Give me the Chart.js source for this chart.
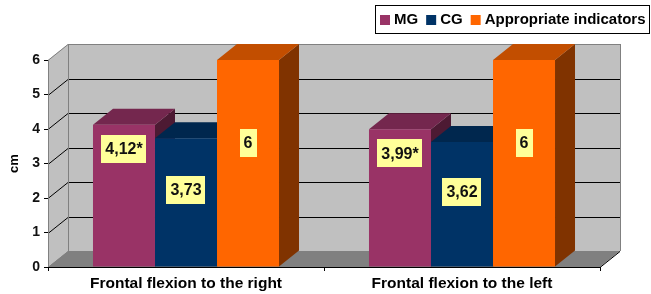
<!DOCTYPE html>
<html>
<head>
<meta charset="utf-8">
<script src="https://cdn.jsdelivr.net/npm/chart.js@4.4.1/dist/chart.umd.min.js"></script>
<style>
  html, body { margin: 0; padding: 0; background: #fff; }
  #wrap { width: 651px; height: 294px; }
</style>
</head>
<body>
<div id="wrap"><canvas id="chart" width="651" height="294"></canvas></div>
<script>
// --- data ---
const categories = ['Frontal flexion to the right', 'Frontal flexion to the left'];
const mgValues = [4.12, 3.99];
const cgValues = [3.73, 3.62];
const normValues = [6, 6];
const mgMarks = ['*', '*'];          // significance marks on MG labels
const yMin = 0, yMax = 6, yStep = 1;

const FONT = '"Liberation Sans", Arial, sans-serif';
const DX = 20, DY = -16;             // depth of the 3D box

// darken a hex colour
function shade(hex, f) {
    const n = parseInt(hex.slice(1), 16);
    const r = Math.round(((n >> 16) & 255) * f);
    const g = Math.round(((n >> 8) & 255) * f);
    const b = Math.round((n & 255) * f);
    return `rgb(${r},${g},${b})`;
}

function poly(ctx, pts, fill, stroke) {
    ctx.beginPath();
    ctx.moveTo(pts[0][0], pts[0][1]);
    for (let i = 1; i < pts.length; i++) ctx.lineTo(pts[i][0], pts[i][1]);
    ctx.closePath();
    if (fill) { ctx.fillStyle = fill; ctx.fill(); }
    if (stroke) { ctx.strokeStyle = stroke; ctx.lineWidth = 1; ctx.stroke(); }
}

function line(ctx, x1, y1, x2, y2, color) {
    ctx.beginPath();
    ctx.moveTo(x1, y1);
    ctx.lineTo(x2, y2);
    ctx.strokeStyle = color;
    ctx.lineWidth = 1;
    ctx.stroke();
}

// walls, floor, grid and the top/side faces of the columns
const box3d = {
    id: 'box3d',
    beforeDatasetsDraw(chart) {
        const ctx = chart.ctx;
        const a = chart.chartArea;
        const ys = chart.scales.y;
        const L = a.left, R = a.right, T = a.top, B = a.bottom;
        ctx.save();
        // back wall
        poly(ctx, [[L + DX, T + DY], [R + DX, T + DY], [R + DX, B + DY], [L + DX, B + DY]], '#c0c0c0');
        // left wall
        poly(ctx, [[L, T], [L + DX, T + DY], [L + DX, B + DY], [L, B]], '#c0c0c0');
        // floor
        poly(ctx, [[L, B], [L + DX, B + DY], [R + DX, B + DY], [R, B]], '#808080');

        // grid lines on the back wall + diagonals on the side wall
        for (let v = yMin; v <= yMax; v += yStep) {
            const py = Math.round(ys.getPixelForValue(v)) + 0.5;
            const edge = (v === yMin || v === yMax);
            const c = edge ? '#808080' : '#000';
            line(ctx, L + DX, py + DY, R + DX, py + DY, v === yMax ? '#808080' : c);
            line(ctx, L, py, L + DX, py + DY, c);
        }
        // wall edges
        line(ctx, L + DX + 0.5, T + DY, L + DX + 0.5, B + DY, '#808080');
        line(ctx, R + DX + 0.5, T + DY, R + DX + 0.5, B + DY, '#808080');
        line(ctx, L + 0.5, T, L + 0.5, B, '#808080');
        line(ctx, R, B + 0.5, R + DX, B + DY + 0.5, '#000');

        // top and side faces, left to right
        const n = chart.data.labels.length;
        for (let j = 0; j < n; j++) {
            chart.data.datasets.forEach((ds, i) => {
                const bar = chart.getDatasetMeta(i).data[j];
                const x1 = bar.x - bar.width / 2, x2 = bar.x + bar.width / 2;
                const top = bar.y, base = bar.base;
                const col = ds.backgroundColor;
                poly(ctx, [[x2, top], [x2 + DX, top + DY], [x2 + DX, base + DY], [x2, base]], shade(col, 0.5));
                poly(ctx, [[x1, top], [x1 + DX, top + DY], [x2 + DX, top + DY], [x2, top]], shade(col, 0.76));
            });
        }
        ctx.restore();
    },
    afterDatasetsDraw(chart) {
        const ctx = chart.ctx;
        const a = chart.chartArea;
        const ys = chart.scales.y;
        ctx.save();
        // front base line
        line(ctx, a.left, a.bottom + 0.5, a.right, a.bottom + 0.5, '#000');

        // value labels on yellow boxes
        ctx.font = `bold 16px ${FONT}`;
        ctx.textAlign = 'center';
        ctx.textBaseline = 'middle';
        chart.data.datasets.forEach((ds, i) => {
            chart.getDatasetMeta(i).data.forEach((bar, j) => {
                const v = ds.data[j];
                let txt = String(v).replace('.', ',');
                if (i === 0) txt += mgMarks[j];
                const anchor = i === 0 ? v - 0.7 : v * 0.6;
                const cy = ys.getPixelForValue(anchor);
                const w = ctx.measureText(txt).width + 8;
                const h = 28;
                ctx.fillStyle = '#ffff99';
                ctx.fillRect(Math.round(bar.x - w / 2), Math.round(cy - h / 2), Math.round(w), h);
                ctx.fillStyle = '#111';
                ctx.fillText(txt, bar.x, cy + 1);
            });
        });
        ctx.restore();
    },
    afterDraw(chart) {
        // legend box
        const ctx = chart.ctx;
        ctx.save();
        ctx.font = `bold 15px ${FONT}`;
        ctx.textBaseline = 'middle';
        ctx.textAlign = 'left';
        const items = chart.data.datasets;
        const bx = 375.5, by = 5.5, bw = 274, bh = 28;
        ctx.fillStyle = '#fff';
        ctx.fillRect(bx, by, bw, bh);
        ctx.strokeStyle = '#000';
        ctx.lineWidth = 1;
        ctx.strokeRect(bx, by, bw, bh);
        let x = 380;
        const cy = 20;
        items.forEach(ds => {
            ctx.fillStyle = ds.backgroundColor;
            ctx.fillRect(x, cy - 5, 10, 10);
            x += 14;
            ctx.fillStyle = '#000';
            ctx.fillText(ds.label, x, cy);
            x += ctx.measureText(ds.label).width + 8;
        });
        ctx.restore();
    }
};

new Chart(document.getElementById('chart'), {
    type: 'bar',
    data: {
        labels: categories,
        datasets: [
            { label: 'MG', data: mgValues, backgroundColor: '#993366' },
            { label: 'CG', data: cgValues, backgroundColor: '#003366' },
            { label: 'Appropriate indicators', data: normValues, backgroundColor: '#ff6600' }
        ]
    },
    options: {
        responsive: false,
        animation: false,
        events: [],
        layout: { padding: { top: 60, right: 51, left: 0, bottom: 0 } },
        datasets: { bar: { categoryPercentage: 0.674, barPercentage: 1, borderWidth: 0 } },
        plugins: { legend: { display: false }, tooltip: { enabled: false } },
        scales: {
            x: {
                grid: { color: 'rgba(0,0,0,0)', tickColor: '#000', tickLength: 4 },
                border: { display: false },
                ticks: { font: { family: FONT, size: 15.5, weight: 'bold' }, color: '#000', padding: 3 },
                afterFit: s => { s.height = 27; }
            },
            y: {
                min: yMin,
                max: yMax,
                ticks: { stepSize: yStep, font: { family: FONT, size: 14, weight: 'bold' }, color: '#111', padding: 4 },
                grid: { color: 'rgba(0,0,0,0)', tickColor: '#000', tickLength: 4 },
                border: { display: false },
                title: { display: true, text: 'cm', color: '#000', font: { family: FONT, size: 13, weight: 'bold' }, padding: { top: 7, bottom: 0 } },
                afterFit: s => { s.width = 48; }
            }
        }
    },
    plugins: [box3d]
});
</script>
</body>
</html>
